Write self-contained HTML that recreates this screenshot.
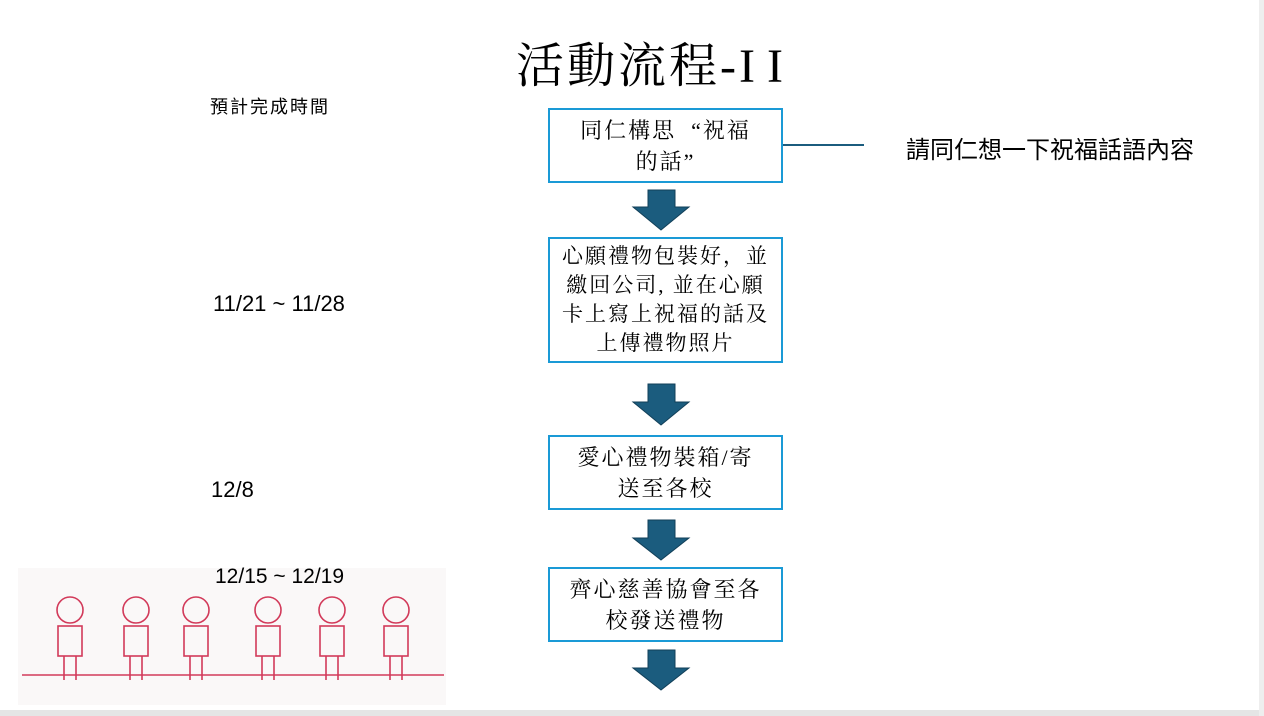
<!DOCTYPE html>
<html><head><meta charset="utf-8"><style>
body{margin:0;width:1264px;height:716px;background:#fff;position:relative;overflow:hidden;font-family:"Liberation Sans","Noto Sans CJK TC",sans-serif}
.t{position:absolute;white-space:nowrap}
.box{position:absolute;border:2px solid #1a9ad6;box-sizing:border-box;display:flex;align-items:center;justify-content:center;text-align:center;font-family:"Liberation Serif","Noto Serif CJK SC",serif;font-size:22px;line-height:31px;letter-spacing:2px;color:#000}
.ser{font-family:"Liberation Serif","Noto Serif CJK SC",serif}
</style></head><body>
<div style="position:absolute;left:0;top:710px;width:1264px;height:6px;background:#e5e5e5"></div>
<div style="position:absolute;left:1259px;top:0;width:5px;height:716px;background:#eee"></div>
<div class="t ser" style="left:516px;top:27px;font-size:48px;letter-spacing:3px">活動流程-<span style="letter-spacing:12px">II</span></div>
<div class="t" style="left:210px;top:93px;font-size:18px;letter-spacing:2px">預計完成時間</div>
<div class="t" style="left:213px;top:291px;font-size:22px">11/21 ~ 11/28</div>
<div class="t" style="left:211px;top:477px;font-size:22px">12/8</div>
<div class="box" style="left:548px;top:108px;width:235px;height:75px">同仁構思&nbsp; “祝福<br>的話”</div>
<div style="position:absolute;left:783px;top:144px;width:81px;height:2px;background:#1b5c7e"></div>
<div class="t" style="left:906px;top:130px;font-size:24px">請同仁想一下祝福話語內容</div>
<div class="box" style="left:548px;top:237px;width:235px;height:126px;line-height:29px;font-size:21px">心願禮物包裝好，並<br>繳回公司, 並在心願<br>卡上寫上祝福的話及<br>上傳禮物照片</div>
<div class="box" style="left:548px;top:435px;width:235px;height:75px">愛心禮物裝箱/寄<br>送至各校</div>
<div class="box" style="left:548px;top:567px;width:235px;height:75px">齊心慈善協會至各<br>校發送禮物</div>
<svg style="position:absolute;left:0;top:0" width="1264" height="716">
<g fill="#1b5c7e" stroke="#123f58" stroke-width="1">
<polygon points="648,190 675,190 675,207 689,207 661,230 633,207 648,207"/>
<polygon points="648,384 675,384 675,402 689,402 661,425 633,402 648,402"/>
<polygon points="648,520 675,520 675,538 689,538 661,560 633,538 648,538"/>
<polygon points="648,650 675,650 675,668 689,668 661,690 633,668 648,668"/>
</g>
<rect x="18" y="568" width="428" height="137" fill="#faf8f8"/>
<g fill="none" stroke="#d23a5a" stroke-width="1.6">
<line x1="22" y1="675" x2="444" y2="675"/>
<g id="k"><circle cx="70" cy="610" r="13"/><rect x="58" y="626" width="24" height="30"/><line x1="64" y1="656" x2="64" y2="680"/><line x1="76" y1="656" x2="76" y2="680"/></g>
<use href="#k" x="66"/><use href="#k" x="126"/><use href="#k" x="198"/><use href="#k" x="262"/><use href="#k" x="326"/>
</g>
</svg>
<div class="t" style="left:215px;top:565px;font-size:21px">12/15 ~ 12/19</div>
</body></html>
